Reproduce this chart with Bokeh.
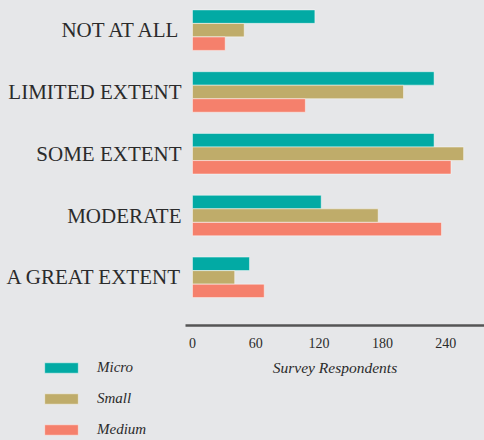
from bokeh.plotting import figure
from bokeh.models import ColumnDataSource, FixedTicker, Range1d
from bokeh.transform import dodge
from bokeh.embed import file_html
from bokeh.resources import INLINE

categories = ["NOT AT ALL", "LIMITED EXTENT", "SOME EXTENT", "MODERATE", "A GREAT EXTENT"]
micro = [116, 229, 229, 122, 54]
small = [49, 200, 257, 176, 40]
medium = [31, 107, 245, 236, 68]
series = ["Micro", "Small", "Medium"]
colors = ["#02aaa4", "#bfac6a", "#f5806c"]
x_ticks = [0, 60, 120, 180, 240]

BG = "#e6e7e9"
FONT = "Liberation Serif"
TXT = "#2b2b2b"

n = len(categories)
ypos = [n - 1 - i for i in range(n)]
src = ColumnDataSource(dict(y=ypos, Micro=micro, Small=small, Medium=medium))

W, H = 484, 440
X0, XEND = -182.0, 276.8
YTOP, YBOT = 4.48, 4.48 - 440 / 61.8
AXIS_Y = 4.48 - 325 / 61.8
AXIS_X = -6.6

p = figure(width=W, height=H, output_backend="svg", toolbar_location=None,
           x_range=Range1d(X0, XEND), y_range=Range1d(YBOT, YTOP),
           min_border=0)
p.background_fill_color = BG
p.border_fill_color = BG
p.outline_line_color = None
p.grid.visible = False

offsets = [0.219, 0.0, -0.219]
for s, c, off in zip(series, colors, offsets):
    p.hbar(y=dodge("y", off), left=0, right=s, height=0.217, source=src,
           fill_color=c, line_color="white", line_alpha=0.45, line_width=1,
           legend_label=s)

# y axis (category labels), fixed at the left edge of the bar area
ya = p.yaxis[0]
ya.fixed_location = AXIS_X
ya.ticker = FixedTicker(ticks=ypos)
ya.major_label_overrides = {y: c for y, c in zip(ypos, categories)}
ya.axis_line_color = None
ya.major_tick_line_color = None
ya.minor_tick_line_color = None
ya.major_label_text_font = FONT
ya.major_label_text_font_size = "21px"
ya.major_label_text_color = TXT
ya.major_label_standoff = -2

# x axis
xa = p.xaxis[0]
xa.fixed_location = AXIS_Y
xa.bounds = (AXIS_X, XEND)
xa.ticker = FixedTicker(ticks=x_ticks)
xa.axis_line_color = "#555555"
xa.axis_line_width = 2.5
xa.major_tick_line_color = None
xa.minor_tick_line_color = None
xa.major_label_text_font = FONT
xa.major_label_text_font_size = "14px"
xa.major_label_text_color = TXT
xa.major_label_standoff = 6
xa.axis_label = "Survey Respondents"
xa.axis_label_text_font = FONT
xa.axis_label_text_font_style = "italic"
xa.axis_label_text_font_size = "15.5px"
xa.axis_label_text_color = TXT
xa.axis_label_standoff = 8

lg = p.legend[0]
lg.location = (40, 2)
lg.orientation = "vertical"
lg.background_fill_alpha = 0
lg.border_line_color = None
lg.padding = 0
lg.margin = 0
lg.glyph_width = 42
lg.glyph_height = 13
lg.label_standoff = 15
lg.spacing = 14
lg.label_text_font = FONT
lg.label_text_font_style = "italic"
lg.label_text_font_size = "15px"
lg.label_text_color = TXT

html = file_html(p, INLINE)
html = html.replace("<head>", "<head><style>body{background:#e6e7e9;}</style>", 1)
open("out.html", "w").write(html)
